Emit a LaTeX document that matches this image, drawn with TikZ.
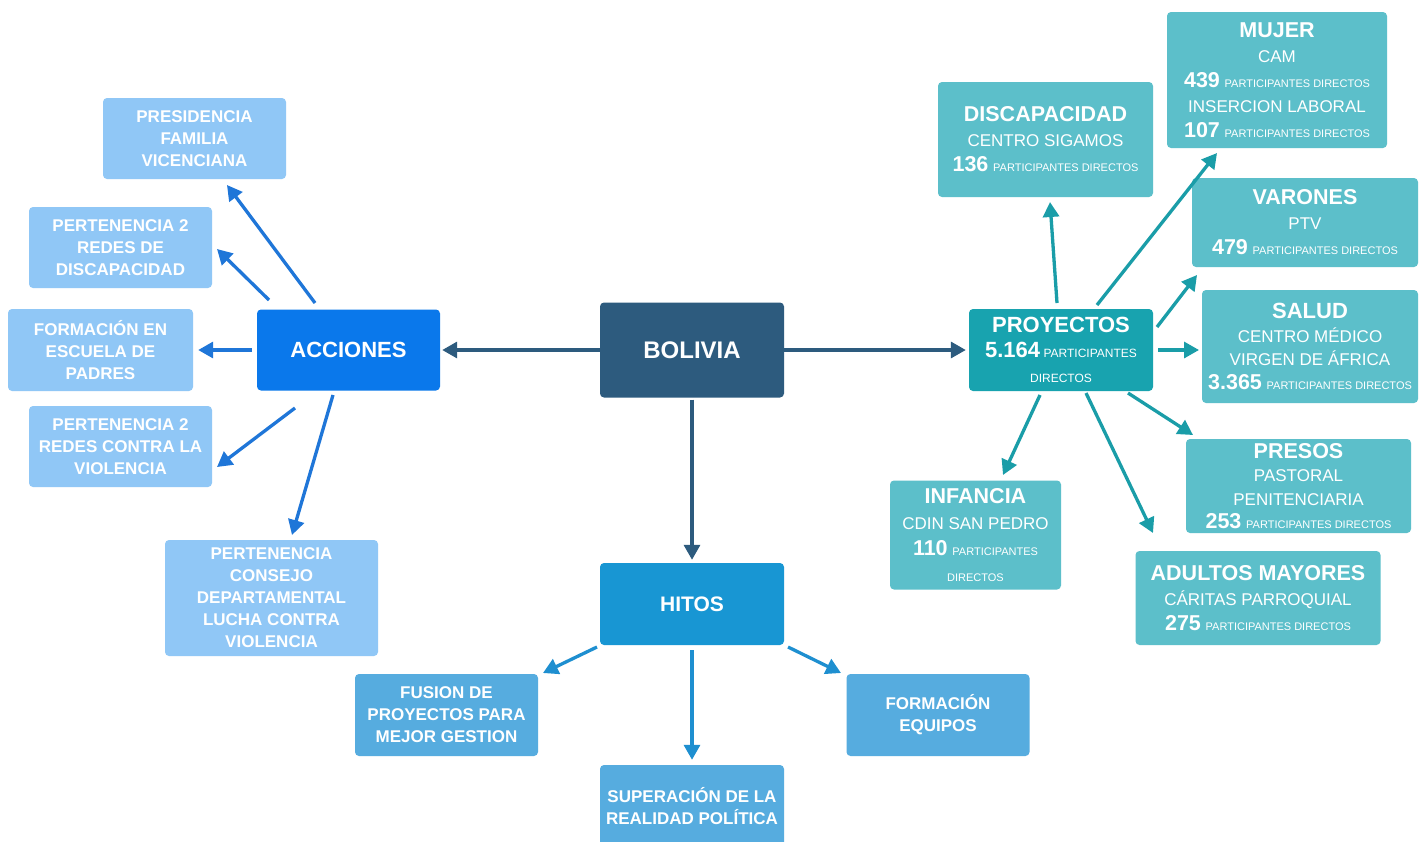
\documentclass[tikz,border=0pt]{standalone}
\usepackage{fontspec}
\setmainfont{Liberation Sans}
\usetikzlibrary{arrows.meta}
\definecolor{cBol}{HTML}{2D5B7E}
\definecolor{cAcc}{HTML}{0A78EB}
\definecolor{cHit}{HTML}{1896D3}
\definecolor{cPro}{HTML}{18A3AF}
\definecolor{cRight}{HTML}{5CBFCA}
\definecolor{cLeft}{HTML}{90C7F6}
\definecolor{cHitC}{HTML}{56ACDF}
\definecolor{aBol}{HTML}{2D5B7E}
\definecolor{aAcc}{HTML}{1F76D8}
\definecolor{aHit}{HTML}{1E8FD0}
\definecolor{aPro}{HTML}{1A9DA8}
\newcommand{\bnum}[1]{{\fontsize{21.5}{25}\selectfont\bfseries #1}}
\newcommand{\btit}[1]{{\fontsize{21.5}{25}\selectfont\bfseries #1}}
\newcommand{\spd}[1]{{\fontsize{11}{25}\selectfont #1}}
\tikzset{
  box/.style={rounded corners=4pt, inner sep=0pt, text=white, align=center, anchor=center},
  mainbox/.style={box, font=\fontsize{22}{26}\selectfont\bfseries},
  leftbox/.style={box, fill=cLeft, font=\fontsize{17}{22}\selectfont\bfseries},
  hitbox/.style={box, fill=cHitC, font=\fontsize{17}{22}\selectfont\bfseries},
  rightbox/.style={box, fill=cRight, font=\fontsize{17}{25}\selectfont},
  arr/.style={line width=3.3pt, -{Triangle[length=15pt,width=16pt]}},
  arrBol/.style={arr, draw=aBol},
  arrAcc/.style={arr, draw=aAcc},
  arrHit/.style={arr, draw=aHit},
  arrPro/.style={arr, draw=aPro},
}
\begin{document}
\begin{tikzpicture}[x=1pt,y=-1pt]
\useasboundingbox (0,0) rectangle (1427,841);
\fill[white] (0,0) rectangle (1427,841);
% main nodes
\node[mainbox, fill=cBol, minimum width=184pt, minimum height=95pt, font=\fontsize{24}{28}\selectfont\bfseries] (bol) at (692,350) {BOLIVIA};
\node[mainbox, fill=cAcc, minimum width=183pt, minimum height=81pt] (acc) at (348.5,350) {ACCIONES};
\node[mainbox, fill=cHit, minimum width=184pt, minimum height=82pt, font=\fontsize{21}{25}\selectfont\bfseries] (hit) at (692,604) {HITOS};
\node[box, fill=cPro, minimum width=184pt, minimum height=82pt, font=\fontsize{12}{25}\selectfont] (pro) at (1061,350)
  {{\fontsize{22}{25}\selectfont\bfseries PROYECTOS}\\{\fontsize{22}{25}\selectfont\bfseries 5.164} PARTICIPANTES\\DIRECTOS};
% left boxes
\node[leftbox, minimum width=183pt, minimum height=81pt] (pres) at (194.5,138.5) {PRESIDENCIA\\FAMILIA\\VICENCIANA};
\node[leftbox, minimum width=183pt, minimum height=81pt] (pdis) at (120.5,247.5) {PERTENENCIA 2\\REDES DE\\DISCAPACIDAD};
\node[leftbox, minimum width=185pt, minimum height=82pt] (fesc) at (100.5,350) {FORMACIÓN EN\\ESCUELA DE\\PADRES};
\node[leftbox, minimum width=183pt, minimum height=81pt] (pvio) at (120.5,446.5) {PERTENENCIA 2\\REDES CONTRA LA\\VIOLENCIA};
\node[leftbox, minimum width=213pt, minimum height=116pt] (pcon) at (271.5,598) {PERTENENCIA\\CONSEJO\\DEPARTAMENTAL\\LUCHA CONTRA\\VIOLENCIA};
% hitos boxes
\node[hitbox, minimum width=183pt, minimum height=82pt] (fus) at (446.5,715) {FUSION DE\\PROYECTOS PARA\\MEJOR GESTION};
\node[hitbox, minimum width=184pt, minimum height=82pt] (sup) at (692,806) {SUPERACIÓN DE LA\\REALIDAD POLÍTICA};
\node[hitbox, minimum width=183pt, minimum height=82pt] (feq) at (938,715) {FORMACIÓN\\EQUIPOS};
% right boxes
\node[rightbox, minimum width=215pt, minimum height=115pt] (disc) at (1045.5,139.5)
  {\btit{DISCAPACIDAD}\\CENTRO SIGAMOS\\\bnum{136} \spd{PARTICIPANTES DIRECTOS}};
\node[rightbox, minimum width=220pt, minimum height=136pt] (muj) at (1277,80)
  {\btit{MUJER}\\CAM\\\bnum{439} \spd{PARTICIPANTES DIRECTOS}\\INSERCION LABORAL\\\bnum{107} \spd{PARTICIPANTES DIRECTOS}};
\node[rightbox, minimum width=226pt, minimum height=89pt] (var) at (1305,222.5)
  {\btit{VARONES}\\PTV\\\bnum{479} \spd{PARTICIPANTES DIRECTOS}};
\node[rightbox, minimum width=216pt, minimum height=113pt, font=\fontsize{17}{23.5}\selectfont] (sal) at (1310,346.5)
  {{\fontsize{22}{24}\selectfont\bfseries SALUD}\\CENTRO MÉDICO\\VIRGEN DE ÁFRICA\\\bnum{3.365} \spd{PARTICIPANTES DIRECTOS}};
\node[rightbox, minimum width=225pt, minimum height=94pt, font=\fontsize{17}{23.5}\selectfont] (prs) at (1298.5,486)
  {\btit{PRESOS}\\PASTORAL\\PENITENCIARIA\\\bnum{253} \spd{PARTICIPANTES DIRECTOS}};
\node[rightbox, minimum width=171pt, minimum height=109pt, font=\fontsize{17}{26}\selectfont] (inf) at (975.5,535)
  {\btit{INFANCIA}\\CDIN SAN PEDRO\\\bnum{110} \spd{PARTICIPANTES}\\\spd{DIRECTOS}};
\node[rightbox, minimum width=245pt, minimum height=94pt] (adu) at (1258,598)
  {\btit{ADULTOS MAYORES}\\CÁRITAS PARROQUIAL\\\bnum{275} \spd{PARTICIPANTES DIRECTOS}};
% arrows from BOLIVIA
\draw[arrBol, shorten >=2pt] (bol.west) -- (acc.east);
\draw[arrBol, shorten >=3pt] (bol.east) -- (pro.west);
\draw[arrBol, shorten <=2pt, shorten >=3pt] (bol.south) -- (hit.north);
% arrows from ACCIONES
\draw[arrAcc] ([shift={(-33.5,-47)}]acc.center) -- ([shift={(32.5,46.5)}]pres.center);
\draw[arrAcc] ([shift={(-79.5,-50)}]acc.center) -- ([shift={(96.5,1.5)}]pdis.center);
\draw[arrAcc, shorten <=5pt, shorten >=5pt] (acc.west) -- (fesc.east);
\draw[arrAcc] ([shift={(-53.5,58)}]acc.center) -- ([shift={(96.5,20.5)}]pvio.center);
\draw[arrAcc] ([shift={(-15.5,45)}]acc.center) -- ([shift={(20.5,-63)}]pcon.center);
% arrows from HITOS
\draw[arrHit] ([shift={(-95,43)}]hit.center) -- ([shift={(96.5,-42)}]fus.center);
\draw[arrHit, shorten <=5pt, shorten >=5pt] (hit.south) -- (sup.north);
\draw[arrHit] ([shift={(96,43)}]hit.center) -- ([shift={(-97,-42)}]feq.center);
% arrows from PROYECTOS
\draw[arrPro] ([shift={(-4,-47)}]pro.center) -- ([shift={(4.5,62.5)}]disc.center);
\draw[arrPro] ([shift={(36,-45)}]pro.center) -- ([shift={(-60,73)}]muj.center);
\draw[arrPro] ([shift={(96,-23)}]pro.center) -- ([shift={(-108,52.5)}]var.center);
\draw[arrPro] ([shift={(97,0)}]pro.center) -- ([shift={(-111,3.5)}]sal.center);
\draw[arrPro] ([shift={(67,43)}]pro.center) -- ([shift={(-105.5,-51)}]prs.center);
\draw[arrPro] ([shift={(25,43)}]pro.center) -- ([shift={(-105,-65)}]adu.center);
\draw[arrPro] ([shift={(-21,45)}]pro.center) -- ([shift={(27.5,-60)}]inf.center);
\end{tikzpicture}
\end{document}
